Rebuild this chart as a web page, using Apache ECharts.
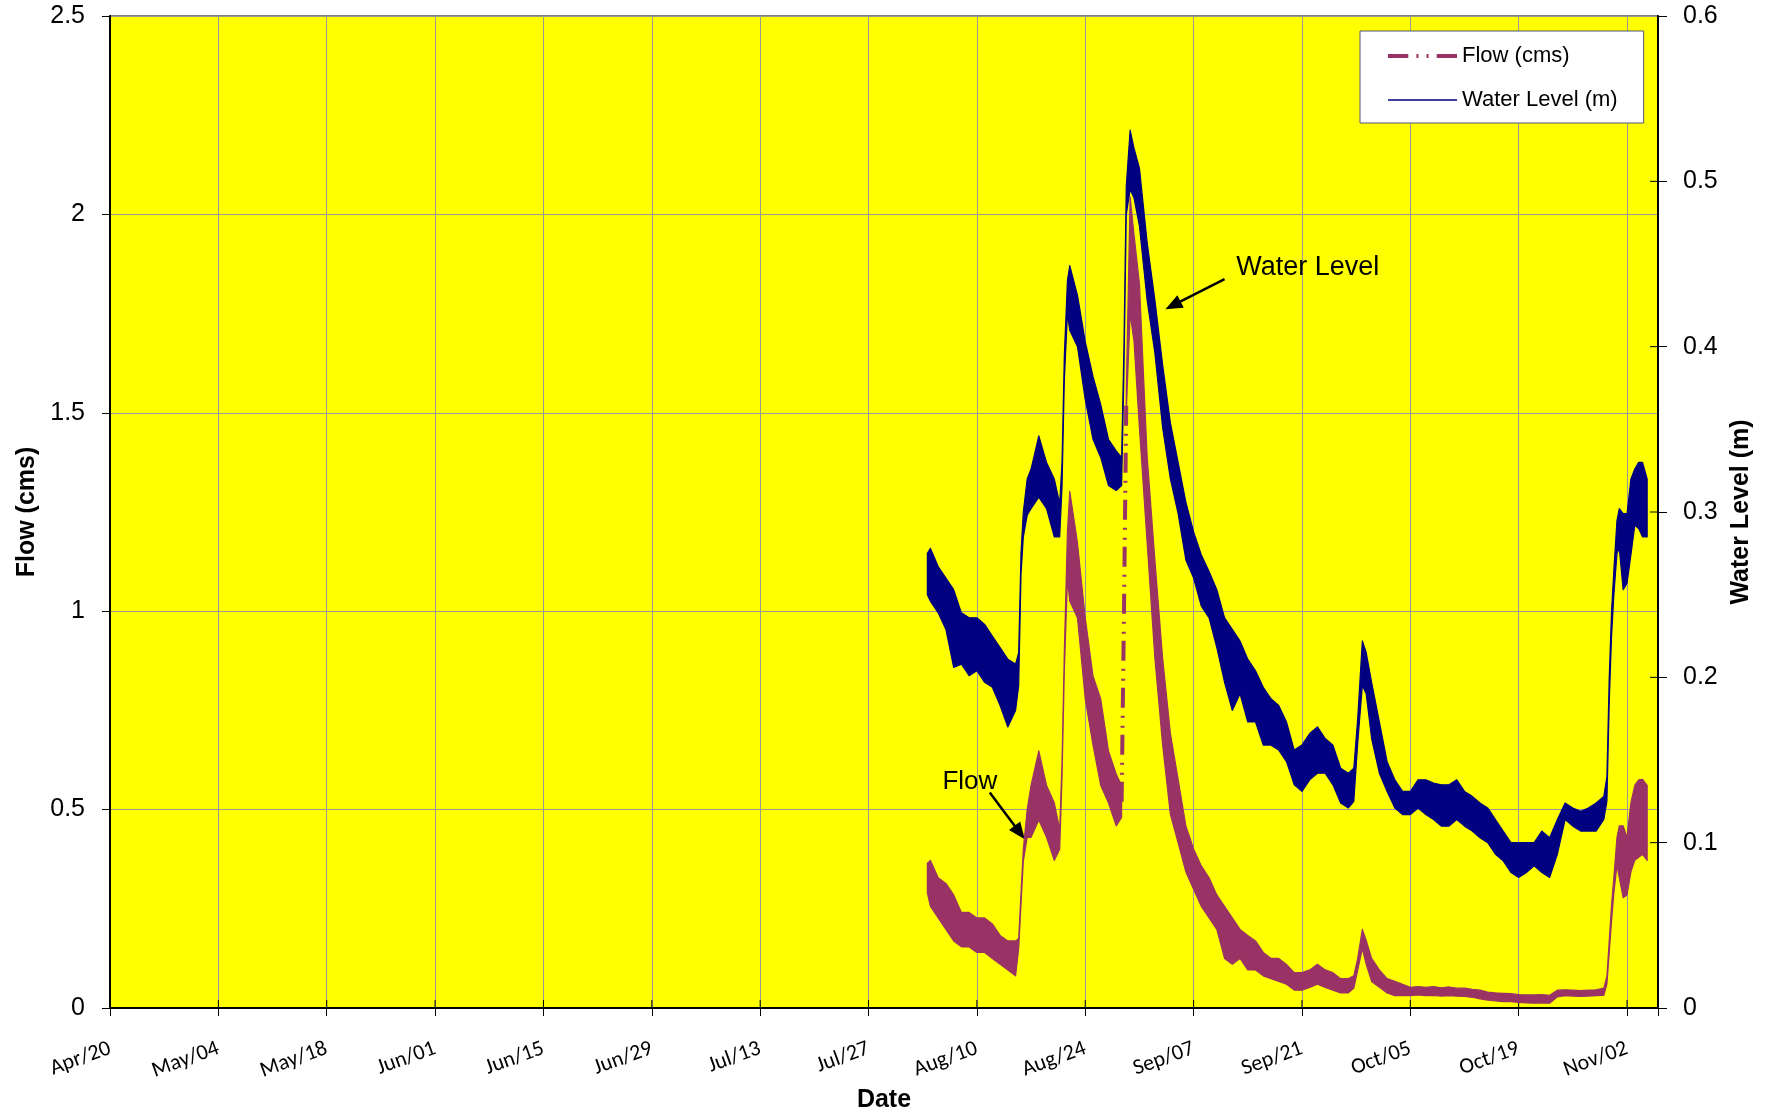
<!DOCTYPE html>
<html>
<head>
<meta charset="utf-8">
<script src="https://cdn.jsdelivr.net/npm/echarts@6/dist/echarts.min.js"></script>
<style>
  html, body { margin: 0; padding: 0; background: #ffffff; }
  #chart { width: 1774px; height: 1117px; }
</style>
</head>
<body>
<div id="chart"></div>
<script>
// Date ticks every 14 days, starting Apr 20
const tickLabels = ['Apr/20', 'May/04', 'May/18', 'Jun/01', 'Jun/15', 'Jun/29', 'Jul/13',
                    'Jul/27', 'Aug/10', 'Aug/24', 'Sep/07', 'Sep/21', 'Oct/05', 'Oct/19', 'Nov/02'];
const tickStepDays = 14;
const axisDays = 200;              // Apr 20 .. Nov 06

const flowTicks = { min: 0, max: 2.5, step: 0.5 };
const levelTicks = { min: 0, max: 0.6, step: 0.1 };

// Sample times, in days after Apr 20
const sampleDay = [
  105.6, 106, 107, 108, 109, 110, 111, 112, 113, 114,
  115, 116, 117, 117.4, 117.7, 118, 118.5, 119, 120, 121,
  122, 122.7, 123.0, 123.3, 123.7, 124, 125, 126, 127, 128,
  129, 130, 130.7, 131.0, 131.3, 131.8, 132.3, 133, 134, 135,
  136, 137, 138, 139, 140, 141, 142, 143, 144, 145,
  146, 147, 148, 149, 150, 151, 152, 153, 154, 155,
  156, 157, 158, 159, 160, 160.7, 161.2, 161.8, 162.3, 163,
  164, 165, 166, 167, 168, 169, 170, 171, 172, 173,
  174, 175, 176, 177, 178, 179, 180, 181, 182, 183,
  184, 185, 186, 187, 188, 189, 190, 191, 192, 193,
  193.4, 193.7, 194, 194.3, 194.7, 195, 195.5, 196, 196.5, 197,
  197.5, 198, 198.6
];

// Water level (m): highest and lowest reading around each sample time
const levelHigh = [
  0.275, 0.278, 0.267, 0.260, 0.253, 0.239, 0.236, 0.236, 0.232, 0.225,
  0.218, 0.211, 0.208, 0.215, 0.275, 0.300, 0.320, 0.326, 0.346, 0.330,
  0.320, 0.305, 0.330, 0.395, 0.440, 0.449, 0.431, 0.403, 0.382, 0.365,
  0.344, 0.337, 0.333, 0.400, 0.497, 0.531, 0.520, 0.508, 0.463, 0.428,
  0.389, 0.354, 0.330, 0.306, 0.288, 0.274, 0.264, 0.253, 0.236, 0.229,
  0.222, 0.211, 0.204, 0.194, 0.187, 0.183, 0.173, 0.156, 0.159, 0.166,
  0.170, 0.163, 0.159, 0.145, 0.142, 0.145, 0.175, 0.222, 0.215, 0.197,
  0.173, 0.149, 0.138, 0.131, 0.131, 0.138, 0.138, 0.136, 0.135, 0.135,
  0.138, 0.131, 0.128, 0.124, 0.121, 0.114, 0.107, 0.100, 0.100, 0.100,
  0.100, 0.107, 0.103, 0.114, 0.124, 0.121, 0.119, 0.121, 0.124, 0.128,
  0.140, 0.200, 0.240, 0.265, 0.295, 0.302, 0.299, 0.299, 0.320, 0.326,
  0.330, 0.330, 0.320
];
const levelLow = [
  0.250, 0.246, 0.239, 0.229, 0.206, 0.208, 0.201, 0.204, 0.197, 0.194,
  0.183, 0.170, 0.180, 0.195, 0.262, 0.285, 0.298, 0.302, 0.309, 0.302,
  0.285, 0.285, 0.315, 0.380, 0.420, 0.410, 0.400, 0.368, 0.344, 0.333,
  0.316, 0.313, 0.316, 0.385, 0.480, 0.495, 0.490, 0.473, 0.428, 0.396,
  0.351, 0.320, 0.299, 0.271, 0.260, 0.243, 0.236, 0.218, 0.197, 0.180,
  0.190, 0.173, 0.173, 0.159, 0.159, 0.156, 0.149, 0.135, 0.131, 0.138,
  0.142, 0.142, 0.135, 0.124, 0.121, 0.125, 0.160, 0.195, 0.190, 0.163,
  0.142, 0.131, 0.121, 0.117, 0.117, 0.121, 0.117, 0.114, 0.110, 0.110,
  0.114, 0.110, 0.107, 0.103, 0.100, 0.093, 0.089, 0.082, 0.079, 0.082,
  0.086, 0.082, 0.079, 0.093, 0.114, 0.110, 0.107, 0.107, 0.107, 0.114,
  0.125, 0.185, 0.225, 0.250, 0.275, 0.278, 0.253, 0.257, 0.274, 0.292,
  0.290, 0.285, 0.285
];

// Flow (cms): highest and lowest reading around each sample time
const flowHigh = [
  0.365, 0.372, 0.328, 0.314, 0.285, 0.241, 0.241, 0.227, 0.227, 0.212,
  0.183, 0.169, 0.169, 0.175, 0.290, 0.400, 0.500, 0.561, 0.648, 0.561,
  0.517, 0.450, 0.620, 0.900, 1.200, 1.302, 1.172, 0.983, 0.837, 0.779,
  0.648, 0.590, 0.560, 1.000, 1.550, 2.044, 1.950, 1.826, 1.390, 1.128,
  0.881, 0.692, 0.576, 0.459, 0.401, 0.358, 0.328, 0.285, 0.256, 0.227,
  0.198, 0.183, 0.169, 0.140, 0.125, 0.125, 0.110, 0.089, 0.089, 0.096,
  0.110, 0.096, 0.089, 0.074, 0.074, 0.081, 0.125, 0.198, 0.170, 0.125,
  0.096, 0.074, 0.067, 0.060, 0.052, 0.054, 0.052, 0.054, 0.051, 0.053,
  0.050, 0.050, 0.047, 0.045, 0.040, 0.038, 0.037, 0.036, 0.034, 0.033,
  0.033, 0.034, 0.032, 0.045, 0.046, 0.045, 0.044, 0.045, 0.046, 0.050,
  0.080, 0.170, 0.260, 0.330, 0.430, 0.459, 0.459, 0.430, 0.517, 0.561,
  0.575, 0.576, 0.561
];
const flowLow = [
  0.290, 0.256, 0.227, 0.198, 0.169, 0.154, 0.154, 0.140, 0.140, 0.125,
  0.110, 0.096, 0.081, 0.150, 0.260, 0.370, 0.430, 0.430, 0.474, 0.430,
  0.372, 0.400, 0.580, 0.850, 1.080, 1.026, 0.983, 0.779, 0.663, 0.561,
  0.517, 0.459, 0.480, 0.980, 1.500, 1.750, 1.680, 1.462, 1.172, 0.881,
  0.663, 0.488, 0.416, 0.343, 0.299, 0.256, 0.227, 0.198, 0.125, 0.110,
  0.125, 0.096, 0.096, 0.081, 0.074, 0.067, 0.060, 0.045, 0.045, 0.052,
  0.060, 0.052, 0.045, 0.038, 0.038, 0.050, 0.095, 0.150, 0.110, 0.067,
  0.052, 0.038, 0.031, 0.031, 0.031, 0.033, 0.031, 0.032, 0.030, 0.031,
  0.030, 0.029, 0.027, 0.023, 0.020, 0.018, 0.016, 0.016, 0.014, 0.013,
  0.012, 0.013, 0.012, 0.028, 0.031, 0.030, 0.029, 0.030, 0.031, 0.032,
  0.060, 0.140, 0.220, 0.290, 0.360, 0.328, 0.278, 0.285, 0.343, 0.372,
  0.380, 0.387, 0.372
];

// Callouts: [day after Apr 20, flow-axis value]
const callouts = [
  { text: 'Water Level', label: [145.5, 1.865], from: [144.0, 1.837], to: [136.36, 1.761] },
  { text: 'Flow',        label: [107.55, 0.570], from: [113.66, 0.543], to: [118.19, 0.425] }
];

const ARIAL = '"Liberation Sans", Arial, sans-serif';
const CALIBRI = 'Carlito, Calibri, Lato, sans-serif';
const FLOW_COLOR = '#993366';
const LEVEL_COLOR = '#000080';
const GRID_COLOR = '#999999';

// Flow steps steeper than this (cms per day) show the dash-dot line style
const STEEP = 1.2;
const mid = (hi, lo, i) => (hi[i] + lo[i]) / 2;
const steepAfter = i =>
  Math.abs(mid(flowHigh, flowLow, i + 1) - mid(flowHigh, flowLow, i)) /
  (sampleDay[i + 1] - sampleDay[i]) > STEEP;

// Continuous runs of samples (flow breaks at its steep steps)
function runsOf(breakAfter) {
  const runs = [];
  let start = 0;
  for (let i = 0; i < sampleDay.length - 1; i++) {
    if (breakAfter(i)) { runs.push([start, i]); start = i + 1; }
  }
  runs.push([start, sampleDay.length - 1]);
  return runs.filter(r => r[1] > r[0]);
}

// Band between the high and low readings, drawn through the axes' scales
function bandSeries(name, hi, lo, yAxisIndex, color, breakAfter) {
  const runs = runsOf(breakAfter);
  const runStart = new Map(runs.map(r => [r[0], r[1]]));
  return {
    name,
    type: 'custom',
    coordinateSystem: 'cartesian2d',
    xAxisIndex: 0,
    yAxisIndex,
    silent: true,
    itemStyle: { color },
    data: sampleDay.map((d, i) => [d, hi[i], lo[i]]),
    encode: { x: 0, y: [1, 2] },
    renderItem: (params, api) => {
      const s = params.dataIndex;
      if (!runStart.has(s)) return null;
      const e = runStart.get(s);
      const pts = [];
      for (let i = s; i <= e; i++) pts.push(api.coord([sampleDay[i], hi[i]]));
      for (let i = e; i >= s; i--) pts.push(api.coord([sampleDay[i], lo[i]]));
      return {
        type: 'polygon',
        shape: { points: pts },
        style: { fill: color, stroke: color, lineWidth: 1.2, lineJoin: 'round' }
      };
    }
  };
}

// Dash-dot line across the steep flow steps
const flowSteps = [];
let lastIdx = -2;
for (let i = 0; i < sampleDay.length - 1; i++) {
  if (!steepAfter(i)) continue;
  if (lastIdx !== i) {
    if (flowSteps.length) flowSteps.push([sampleDay[i], '-']);
    flowSteps.push([sampleDay[i], mid(flowHigh, flowLow, i)]);
  }
  flowSteps.push([sampleDay[i + 1], mid(flowHigh, flowLow, i + 1)]);
  lastIdx = i + 1;
}

const chart = echarts.init(document.getElementById('chart'), null, { renderer: 'canvas' });

chart.setOption({
  animation: false,
  backgroundColor: '#ffffff',
  textStyle: { fontFamily: ARIAL, color: '#000' },
  grid: {
    left: 110, top: 16, right: 116, bottom: 109,
    outerBoundsMode: 'none',
    containLabel: false,
    show: true,
    backgroundColor: '#ffff00',
    borderColor: '#808080',
    borderWidth: 2
  },
  legend: {
    left: 1360,
    top: 31,
    orient: 'vertical',
    backgroundColor: '#ffffff',
    borderColor: '#55557a',
    borderWidth: 1,
    borderRadius: 0,
    padding: [14, 26, 12, 28],
    itemGap: 22,
    itemWidth: 69,
    itemHeight: 14,
    itemTextGap: 8,
    symbolKeepAspect: true,
    selectedMode: false,
    textStyle: { fontFamily: ARIAL, fontSize: 22, color: '#000' },
    data: [
      { name: 'Flow (cms)',
        icon: 'path://M0,0H20V4H0Z M28,0H30V4H28Z M38,0H40V4H38Z M48,0H68V4H48Z' },
      { name: 'Water Level (m)', icon: 'path://M0,0H68V1.3H0Z' }
    ]
  },
  xAxis: {
    type: 'value',
    min: 0,
    max: axisDays,
    interval: tickStepDays,
    position: 'bottom',
    name: 'Date',
    nameLocation: 'middle',
    nameGap: 73,
    nameTextStyle: { fontFamily: ARIAL, fontSize: 25, fontWeight: 'bold', color: '#000' },
    axisLine: { show: true, onZero: false, lineStyle: { color: '#000', width: 2 } },
    axisTick: { show: true, inside: false, length: 8, lineStyle: { color: '#000', width: 1 } },
    axisLabel: {
      rotate: 20,
      margin: 40,
      fontFamily: CALIBRI,
      fontSize: 22,
      color: '#000',
      showMinLabel: true,
      showMaxLabel: true,
      hideOverlap: false,
      formatter: v => {
        const k = Math.round(v / tickStepDays);
        return Math.abs(v - k * tickStepDays) < 1e-6 && tickLabels[k] ? tickLabels[k] : '';
      }
    },
    splitLine: { show: true, lineStyle: { color: GRID_COLOR, width: 1 } }
  },
  yAxis: [
    {
      type: 'value',
      min: flowTicks.min,
      max: flowTicks.max,
      interval: flowTicks.step,
      position: 'left',
      name: 'Flow (cms)',
      nameLocation: 'middle',
      nameRotate: 90,
      nameGap: 70,
      nameTextStyle: { fontFamily: ARIAL, fontSize: 25, fontWeight: 'bold', color: '#000' },
      axisLine: { show: true, onZero: false, lineStyle: { color: '#000', width: 2 } },
      axisTick: { show: true, inside: false, length: 8, lineStyle: { color: '#000', width: 1 } },
      axisLabel: { margin: 25, fontFamily: ARIAL, fontSize: 25, color: '#000' },
      splitLine: { show: true, lineStyle: { color: GRID_COLOR, width: 1 } }
    },
    {
      type: 'value',
      min: levelTicks.min,
      max: levelTicks.max,
      interval: levelTicks.step,
      position: 'right',
      name: 'Water Level (m)',
      nameLocation: 'middle',
      nameRotate: 90,
      nameGap: 70,
      nameTextStyle: { fontFamily: ARIAL, fontSize: 25, fontWeight: 'bold', color: '#000' },
      axisLine: { show: true, onZero: false, lineStyle: { color: '#000', width: 2 } },
      axisTick: { show: true, inside: false, length: 9, lineStyle: { color: '#000', width: 1 } },
      axisLabel: { margin: 25, fontFamily: ARIAL, fontSize: 25, color: '#000' },
      splitLine: { show: false }
    }
  ],
  series: [
    bandSeries('Flow (cms)', flowHigh, flowLow, 0, FLOW_COLOR, steepAfter),
    {
      name: 'Flow (cms)',
      type: 'line',
      xAxisIndex: 0,
      yAxisIndex: 0,
      data: flowSteps,
      symbol: 'none',
      showSymbol: false,
      silent: true,
      connectNulls: false,
      lineStyle: { color: FLOW_COLOR, width: 4, type: [20, 7, 2, 8, 2, 8], cap: 'butt' },
      itemStyle: { color: FLOW_COLOR }
    },
    bandSeries('Water Level (m)', levelHigh, levelLow, 1, LEVEL_COLOR, () => false)
  ]
});

// Inner halves of the crossing tick marks, plus callout labels and arrows
const graphics = [];
const px = p => chart.convertToPixel({ xAxisIndex: 0, yAxisIndex: 0 }, p);
const xRight = chart.convertToPixel({ xAxisIndex: 0 }, axisDays);
const yBottom = chart.convertToPixel({ yAxisIndex: 0 }, flowTicks.min);
for (let v = levelTicks.min + levelTicks.step; v < levelTicks.max - 1e-9; v += levelTicks.step) {
  const y = chart.convertToPixel({ yAxisIndex: 1 }, v);
  graphics.push({ type: 'line', silent: true,
    shape: { x1: xRight - 8, y1: y, x2: xRight, y2: y },
    style: { stroke: '#000', lineWidth: 1 } });
}
for (let k = 1; k < tickLabels.length; k++) {
  const x = chart.convertToPixel({ xAxisIndex: 0 }, k * tickStepDays);
  graphics.push({ type: 'line', silent: true,
    shape: { x1: x, y1: yBottom - 8, x2: x, y2: yBottom },
    style: { stroke: '#000', lineWidth: 1 } });
}
callouts.forEach(c => {
  const l = px(c.label), a = px(c.from), b = px(c.to);
  graphics.push({
    type: 'text', x: l[0], y: l[1], silent: true,
    style: {
      text: c.text, fill: '#000', fontFamily: ARIAL, fontSize: c.text === 'Flow' ? 26 : 27,
      textAlign: 'left', textVerticalAlign: 'middle', align: 'left', verticalAlign: 'middle'
    }
  });
  const dx = b[0] - a[0], dy = b[1] - a[1];
  const len = Math.hypot(dx, dy), ux = dx / len, uy = dy / len;
  const head = 17, half = 7;
  const bx = b[0] - ux * head, by = b[1] - uy * head;
  graphics.push({
    type: 'line', silent: true,
    shape: { x1: a[0], y1: a[1], x2: bx + ux, y2: by + uy },
    style: { stroke: '#000', lineWidth: 2.5 }
  });
  graphics.push({
    type: 'polygon', silent: true,
    shape: { points: [[b[0], b[1]], [bx - uy * half, by + ux * half], [bx + uy * half, by - ux * half]] },
    style: { fill: '#000' }
  });
});
chart.setOption({ graphic: graphics });
</script>
</body>
</html>
